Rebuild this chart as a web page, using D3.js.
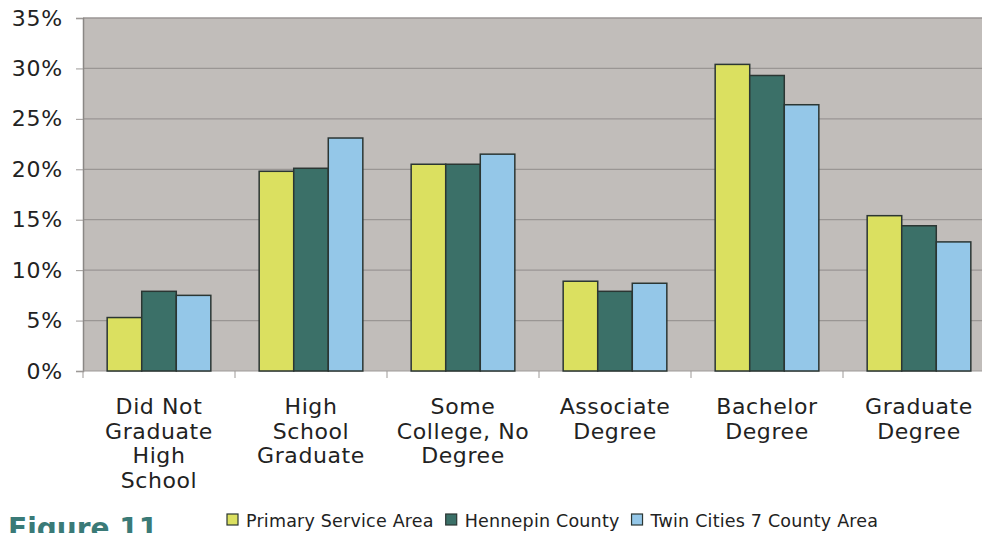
<!DOCTYPE html>
<html><head><meta charset="utf-8">
<script src="https://cdn.jsdelivr.net/npm/d3@7/dist/d3.min.js"></script>
<style>html,body{margin:0;padding:0;background:#fff;overflow:hidden}</style>
</head><body>
<svg id="chart" width="982" height="533"></svg>
<script>
const categories = [
  ["Did Not","Graduate","High","School"],
  ["High","School","Graduate"],
  ["Some","College, No","Degree"],
  ["Associate","Degree"],
  ["Bachelor","Degree"],
  ["Graduate","Degree"]
];
const seriesNames = ["Primary Service Area","Hennepin County","Twin Cities 7 County Area"];
const primary   = [5.3, 19.8, 20.5, 8.9, 30.4, 15.4];
const hennepin  = [7.9, 20.1, 20.5, 7.9, 29.3, 14.4];
const twinCities= [7.5, 23.1, 21.5, 8.7, 26.4, 12.8];
const yTicks = [0,5,10,15,20,25,30,35];
const colors = ["#dbe060","#3b7068","#94c7e8"];

const FONT = "DejaVu Sans, Verdana, sans-serif";
const svg = d3.select("#chart");
const pLeft = 83, pTop = 18, pBottom = 371, pRight = 995;
const catIdx = d3.range(categories.length);
const x0 = d3.scaleBand().domain(catIdx).range([pLeft, pRight]).paddingInner(0.318).paddingOuter(0.159);
const x1 = d3.scaleBand().domain([0,1,2]).range([0, x0.bandwidth()]);
const y = d3.scaleLinear().domain([0,35]).range([pBottom, pTop]);

svg.append("rect").attr("x", pLeft).attr("y", pTop).attr("width", pRight-pLeft).attr("height", pBottom-pTop).attr("fill", "#c1bdba");

svg.append("g").selectAll("line").data(yTicks.slice(1)).join("line")
  .attr("x1", pLeft).attr("x2", pRight).attr("y1", d=>y(d)).attr("y2", d=>y(d))
  .attr("stroke", "#9a9694").attr("stroke-width", 1.3);

const yAxis = svg.append("g").attr("transform", `translate(${pLeft},0)`)
  .call(d3.axisLeft(y).tickValues(yTicks).tickFormat(d=>d+"%").tickSize(7).tickPadding(13));
yAxis.select(".domain").attr("stroke", "#8a8785").attr("stroke-width", 1.5);
yAxis.selectAll(".tick line").attr("stroke", "#9d9997");
yAxis.selectAll("text").attr("font-family", FONT).attr("font-size", 22).attr("letter-spacing", 0.8).attr("fill", "#222");

const xAxisG = svg.append("g");
xAxisG.append("line").attr("x1", pLeft).attr("x2", pRight).attr("y1", pBottom).attr("y2", pBottom).attr("stroke", "#9d9997").attr("stroke-width", 1.2);
const step = x0.step();
xAxisG.selectAll("line.tk").data(d3.range(categories.length+1)).join("line").attr("class","tk")
  .attr("x1", d=>pLeft + d*step).attr("x2", d=>pLeft + d*step).attr("y1", pBottom).attr("y2", pBottom+7)
  .attr("stroke", "#9d9997");

const series = [primary, hennepin, twinCities];
const groups = svg.append("g").selectAll("g").data(catIdx).join("g")
  .attr("transform", i=>`translate(${x0(i)},0)`);
groups.selectAll("rect").data(i=>series.map((s,k)=>({k, v:s[i]}))).join("rect")
  .attr("x", d=>x1(d.k)).attr("width", x1.bandwidth())
  .attr("y", d=>y(d.v)).attr("height", d=>pBottom - y(d.v))
  .attr("fill", d=>colors[d.k]).attr("stroke", "#2b3633").attr("stroke-width", 1.5);

const labels = svg.append("g").selectAll("text").data(catIdx).join("text")
  .attr("x", i=>x0(i)+x0.bandwidth()/2).attr("y", 414)
  .attr("text-anchor", "middle").attr("font-family", FONT)
  .attr("font-size", 22).attr("letter-spacing", 0.6).attr("fill", "#222");
labels.selectAll("tspan").data(i=>categories[i]).join("tspan")
  .attr("x", function(){ return d3.select(this.parentNode).attr("x"); })
  .attr("dy", (d,j)=>j===0?0:24.7).text(d=>d);

const leg = svg.append("g").attr("font-family", FONT).attr("font-size", 17.5).attr("fill", "#222");
let lx = 227;
seriesNames.forEach((n,k)=>{
  leg.append("rect").attr("x", lx).attr("y", 514).attr("width", 11).attr("height", 11)
    .attr("fill", colors[k]).attr("stroke", "#2b3633").attr("stroke-width", 1.2);
  const t = leg.append("text").attr("x", lx+19).attr("y", 527).attr("letter-spacing", 0.2).text(n);
  lx = lx + 19 + t.node().getComputedTextLength() + 12;
});

svg.append("text").attr("x", 8).attr("y", 538).attr("font-family", FONT)
  .attr("font-weight", "bold").attr("font-size", 28).attr("fill", "#3a7a77").text("Figure 11");
</script>
</body></html>
